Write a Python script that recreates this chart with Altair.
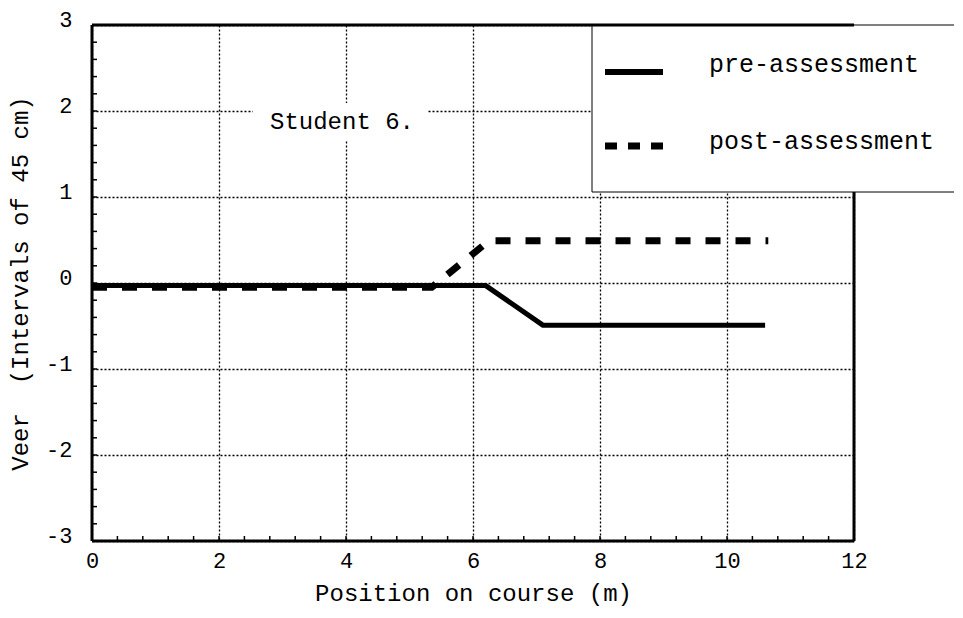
import altair as alt
import pandas as pd

FONT = "Liberation Mono"

# ---- data ----
pre_x = [0, 6.2, 7.1, 10.6]
pre_y = [-0.03, -0.03, -0.49, -0.49]
post_x = [0, 5.35, 6.25, 10.65]
post_y = [-0.05, -0.05, 0.49, 0.49]
series = ["pre-assessment", "post-assessment"]
x_ticks = [0, 2, 4, 6, 8, 10, 12]
y_ticks = [-3, -2, -1, 0, 1, 2, 3]
x_minor = [round(0.4 * i, 2) for i in range(31)]
y_minor = [round(-3 + 0.2 * i, 2) for i in range(31)]
annotation = ["Student 6."]
x_title = "Position on course (m)"
y_title = "Veer\u00a0 (Intervals of 45 cm)"

W, H = 762, 516

xs = alt.Scale(domain=[0, 12], nice=False, zero=False)
ys = alt.Scale(domain=[-3, 3], nice=False, zero=False)

LABEL_EXPR = "datum.value < 0 ? '-' + abs(datum.value) : '' + datum.value"

ax_x = alt.Axis(values=x_ticks, title=x_title, labelExpr=LABEL_EXPR, labelFlush=False,
                titleX=381, titleY=52, titleBaseline="middle", titleAlign="center")
ax_y = alt.Axis(values=y_ticks, title=y_title, labelExpr=LABEL_EXPR, labelFlush=False,
                labelOffset=-6, labelPadding=20,
                titleX=-72, titleY=258, titleAngle=270,
                titleBaseline="middle", titleAlign="center")

X = alt.X("x:Q", scale=xs, axis=ax_x)
Y = alt.Y("y:Q", scale=ys, axis=ax_y)

one = pd.DataFrame({"a": [0]})

pre_df = pd.DataFrame({"x": pre_x, "y": pre_y})
post_df = pd.DataFrame({"x": post_x, "y": post_y})

pre_line = alt.Chart(pre_df).mark_line(
    color="black", strokeWidth=5, strokeCap="butt", strokeJoin="miter"
).encode(x=X, y=Y)

post_line = alt.Chart(post_df).mark_line(
    color="black", strokeWidth=7, strokeDash=[15, 15], strokeCap="butt", strokeJoin="miter"
).encode(x=X, y=Y)

xminor = alt.Chart(pd.DataFrame({"x": x_minor})).mark_rule(
    color="black", strokeWidth=1.5
).encode(x=X, y=alt.value(H - 5), y2=alt.value(H))

yminor = alt.Chart(pd.DataFrame({"y": y_minor})).mark_rule(
    color="black", strokeWidth=1.5
).encode(y=Y, x=alt.value(0), x2=alt.value(5))

student_box = alt.Chart(one).mark_rect(fill="white", strokeWidth=0).encode(
    x=alt.value(161), x2=alt.value(335), y=alt.value(78), y2=alt.value(115)
)
student_text = alt.Chart(pd.DataFrame({"t": annotation})).mark_text(
    font=FONT, fontSize=24, align="left", baseline="middle", color="black"
).encode(x=alt.value(178), y=alt.value(97), text="t:N")

legend_box = alt.Chart(one).mark_rect(
    fill="white", stroke="black", strokeWidth=1, clip=False
).encode(x=alt.value(500), x2=alt.value(880), y=alt.value(0), y2=alt.value(167))

leg_solid = alt.Chart(one).mark_rule(color="black", strokeWidth=6, strokeCap="butt").encode(
    x=alt.value(513), x2=alt.value(571), y=alt.value(47)
)
leg_dash = alt.Chart(one).mark_rule(
    color="black", strokeWidth=7, strokeDash=[12, 11], strokeCap="butt"
).encode(x=alt.value(513), x2=alt.value(573), y=alt.value(121))
leg_t1 = alt.Chart(one).mark_text(
    font=FONT, fontSize=25, align="left", baseline="middle", color="black"
).encode(x=alt.value(617), y=alt.value(39), text=alt.value(series[0]))
leg_t2 = alt.Chart(one).mark_text(
    font=FONT, fontSize=25, align="left", baseline="middle", color="black"
).encode(x=alt.value(617), y=alt.value(116), text=alt.value(series[1]))

border_top = alt.Chart(one).mark_rule(color="black", strokeWidth=3).encode(
    x=alt.value(0), x2=alt.value(W), y=alt.value(0)
)
border_bottom = alt.Chart(one).mark_rule(color="black", strokeWidth=3).encode(
    x=alt.value(0), x2=alt.value(W), y=alt.value(H)
)
border_left = alt.Chart(one).mark_rule(color="black", strokeWidth=3).encode(
    x=alt.value(0), y=alt.value(0), y2=alt.value(H)
)
border_right = alt.Chart(one).mark_rule(color="black", strokeWidth=3).encode(
    x=alt.value(W), y=alt.value(167), y2=alt.value(H)
)

chart = alt.layer(
    pre_line, post_line, xminor, yminor,
    student_box, student_text,
    legend_box, leg_solid, leg_dash, leg_t1, leg_t2,
    border_top, border_bottom, border_left, border_right,
).properties(
    width=W, height=H,
    padding={"left": 84, "top": 17, "right": 100, "bottom": 67},
    autosize=alt.AutoSizeParams(type="none"),
    background="white",
).configure_view(stroke=None).configure_axis(
    labelFont=FONT, labelFontSize=22, labelColor="black",
    titleFont=FONT, titleFontSize=24, titleColor="black", titleFontWeight="normal",
    domain=False, ticks=False, grid=True, gridColor="black",
    gridDash=[2, 2], gridWidth=1.3, gridOpacity=1,
).configure_axisX(labelPadding=9)

chart.save("out.html", embed_options={"renderer": "svg", "actions": False})
